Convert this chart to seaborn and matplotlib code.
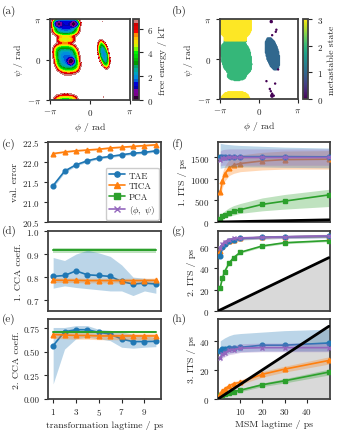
import numpy as np
import pandas as pd
import matplotlib
matplotlib.use("Agg")
import matplotlib.pyplot as plt
from matplotlib.colors import Normalize
from matplotlib.cm import ScalarMappable
from matplotlib.lines import Line2D
import seaborn as sns

# ---------------- data ----------------
method_names = ["TAE", "TICA", "PCA", r"$(\phi,\ \psi)$"]
method_colors = ["#1f77b4", "#ff7f0e", "#2ca02c", "#9467bd"]
method_markers = ["o", "^", "s", "x"]

# transformation lagtimes (left column)
trans_lag = [1, 2, 3, 4, 5, 6, 7, 8, 9, 10]
valerr_tae = [21.41, 21.77, 21.93, 22.03, 22.10, 22.14, 22.18, 22.22, 22.24, 22.28]
valerr_tae_lo = [21.36, 21.73, 21.90, 22.00, 22.07, 22.11, 22.15, 22.19, 22.21, 22.25]
valerr_tae_hi = [21.46, 21.81, 21.96, 22.06, 22.13, 22.17, 22.21, 22.25, 22.27, 22.31]
valerr_tica = [22.21, 22.25, 22.28, 22.30, 22.32, 22.35, 22.37, 22.39, 22.41, 22.43]
valerr_tica_lo = [22.19, 22.23, 22.26, 22.28, 22.30, 22.33, 22.35, 22.37, 22.39, 22.41]
valerr_tica_hi = [22.23, 22.27, 22.30, 22.32, 22.34, 22.37, 22.39, 22.41, 22.43, 22.45]

cca1_tae = [0.803, 0.807, 0.827, 0.810, 0.807, 0.803, 0.781, 0.770, 0.774, 0.770]
cca1_tae_lo = [0.752, 0.762, 0.755, 0.750, 0.745, 0.740, 0.740, 0.720, 0.740, 0.730]
cca1_tae_hi = [0.885, 0.872, 0.900, 0.917, 0.905, 0.890, 0.853, 0.800, 0.795, 0.790]
cca1_tica = [0.787, 0.786, 0.786, 0.785, 0.785, 0.785, 0.785, 0.785, 0.785, 0.786]
cca1_tica_lo = [0.777, 0.776, 0.776, 0.775, 0.775, 0.775, 0.775, 0.775, 0.775, 0.776]
cca1_tica_hi = [0.797, 0.796, 0.796, 0.795, 0.795, 0.795, 0.795, 0.795, 0.795, 0.796]
cca1_pca = [0.916] * 10
cca1_pca_lo = [0.904] * 10
cca1_pca_hi = [0.928] * 10

cca2_tae = [0.567, 0.715, 0.736, 0.736, 0.708, 0.690, 0.637, 0.610, 0.610, 0.613]
cca2_tae_lo = [0.16, 0.53, 0.64, 0.655, 0.64, 0.62, 0.55, 0.54, 0.55, 0.556]
cca2_tae_hi = [0.76, 0.76, 0.78, 0.78, 0.74, 0.73, 0.71, 0.69, 0.67, 0.655]
cca2_tica = [0.685, 0.680, 0.675, 0.675, 0.670, 0.670, 0.670, 0.670, 0.670, 0.670]
cca2_tica_lo = [0.645, 0.640, 0.635, 0.635, 0.630, 0.630, 0.630, 0.630, 0.630, 0.630]
cca2_tica_hi = [0.715, 0.710, 0.705, 0.705, 0.700, 0.700, 0.700, 0.700, 0.700, 0.700]
cca2_pca = [0.712] * 10
cca2_pca_lo = [0.705] * 10
cca2_pca_hi = [0.719] * 10

# MSM lagtimes (right column)
msm_lag = [1, 2, 3, 5, 7, 10, 20, 30, 50]
lag_line = [0, 50]

its1_tae = [1500, 1510, 1515, 1520, 1520, 1520, 1520, 1520, 1515]
its1_tae_lo = [1250, 1260, 1270, 1280, 1280, 1280, 1280, 1270, 1260]
its1_tae_hi = [1830, 1820, 1810, 1800, 1790, 1780, 1760, 1740, 1720]
its1_tica = [690, 960, 1115, 1250, 1320, 1360, 1420, 1450, 1460]
its1_tica_lo = [560, 800, 950, 1080, 1130, 1170, 1210, 1230, 1230]
its1_tica_hi = [850, 1150, 1300, 1450, 1520, 1560, 1620, 1650, 1660]
its1_pca = [75, 130, 170, 215, 250, 285, 410, 485, 630]
its1_pca_lo = [40, 70, 100, 130, 160, 200, 260, 300, 360]
its1_pca_hi = [120, 200, 260, 330, 380, 430, 560, 640, 760]
its1_pp = [1450, 1480, 1490, 1500, 1500, 1500, 1500, 1500, 1500]
its1_pp_lo = [1300, 1320, 1320, 1320, 1320, 1320, 1320, 1320, 1320]
its1_pp_hi = [1650, 1680, 1690, 1700, 1700, 1700, 1700, 1700, 1700]

its2_tae = [52, 60, 63, 66, 67, 68, 69, 69.5, 70]
its2_tae_lo = [50, 58, 61.5, 64.5, 65.5, 66.5, 67.5, 68, 68.5]
its2_tae_hi = [54, 62, 64.5, 67.5, 68.5, 69.5, 70.5, 71, 71.5]
its2_tica = [56, 61, 64, 66, 67, 68, 69, 69.5, 70]
its2_tica_lo = [55, 60, 63, 65, 66, 67, 68, 68.5, 69]
its2_tica_hi = [57, 62, 65, 67, 68, 69, 70, 70.5, 71]
its2_pca = [22, 31, 37, 45, 50, 55, 61, 64, 66]
its2_pca_lo = [21, 30, 36, 44, 49, 54, 60, 63, 65]
its2_pca_hi = [23, 32, 38, 46, 51, 56, 62, 65, 67]
its2_pp = [59, 63, 65, 67, 68, 68.5, 69, 69.5, 70.5]
its2_pp_lo = [57, 61.5, 63.5, 65.5, 66.5, 67, 67.5, 68, 69]
its2_pp_hi = [61, 64.5, 66.5, 68.5, 69.5, 70, 70.5, 71, 72]

its3_tae = [33, 34.2, 34.7, 35.3, 35.3, 35.5, 37, 37, 38.5]
its3_tae_lo = [28, 29.5, 30.5, 31.5, 32, 32.5, 33, 33, 33]
its3_tae_hi = [40, 41, 42, 43.5, 44.5, 45, 46, 47, 48]
its3_tica = [3.5, 5.5, 7, 9, 10.5, 11.5, 17, 20.5, 26.5]
its3_tica_lo = [2.5, 4.2, 5.6, 7.5, 9, 10, 15, 18.5, 24]
its3_tica_hi = [4.5, 6.8, 8.4, 10.5, 12, 13, 19, 22.5, 29]
its3_pca = [2.5, 3, 3.5, 4.2, 5, 6, 9.8, 12.5, 18.5]
its3_pca_lo = [1.8, 2.2, 2.6, 3.2, 4, 5, 8.5, 11, 16.5]
its3_pca_hi = [3.2, 3.8, 4.4, 5.2, 6, 7, 11, 14, 20.5]
its3_pp = [28.4, 30.7, 31.8, 33.5, 34, 34.9, 35.3, 35.3, 35.3]
its3_pp_lo = [25.5, 28, 29, 30.5, 31, 32, 32.5, 32.5, 32.5]
its3_pp_hi = [31.5, 33.5, 34.5, 36.5, 37, 38, 38.5, 38.5, 38.5]

# free-energy basins of the (phi, psi) landscape
basin_phi = [-1.90, -2.49, -1.26, -1.83, -1.49, -1.90, -1.90, 1.08, 1.00, 1.05, -1.80]
basin_psi = [2.65, 2.76, 2.76, 0.10, -0.14, 1.55, -3.55, 0.40, 2.95, -2.90, -1.35]
basin_wphi = [0.67, 0.30, 0.30, 0.64, 0.30, 0.59, 0.70, 0.28, 0.06, 0.06, 0.80]
basin_wpsi = [0.53, 0.25, 0.25, 0.72, 0.30, 0.22, 0.59, 0.70, 0.08, 0.12, 0.35]
basin_tilt = [0.0, 0.0, 0.0, 0.15, 0.0, 0.0, 0.0, 0.20, 0.0, 0.0, 0.0]
basin_f0 = [1.0, 0.2, 0.0, 1.5, 0.0, 4.3, 3.0, 1.8, 6.5, 6.5, 6.9]
basin_shape = [3, 2, 2, 3, 2, 3, 3, 2, 2, 2, 2]
fe_max = 6.8
sample_max = 7.8

# sparse metastable state 0 samples
state0_phi = [1.40, 1.35, 1.06, 0.60, 1.30, 0.87, 0.95, 1.06, 1.00, 1.19, 1.54]
state0_psi = [2.30, 2.14, 1.87, -1.74, -1.93, -2.35, -2.53, -2.72, -2.88, -2.88, -0.82]


def landscape(P, S):
    terms = []
    for bp, bs, wp, ws, tl, f0, sh in zip(basin_phi, basin_psi, basin_wphi, basin_wpsi,
                                          basin_tilt, basin_f0, basin_shape):
        dp = (P - bp) + tl * (S - bs)
        r = (np.abs(dp / wp) ** sh + np.abs((S - bs) / ws) ** sh) ** (1.0 / sh)
        terms.append(np.exp(-(f0 + r ** 3)))
    return -np.log(np.sum(terms, axis=0) + 1e-300)


# ---------------- style ----------------
sns.set_theme(style="ticks")
plt.rcParams.update({
    "font.family": "serif",
    "font.serif": ["cmr10"],
    "mathtext.fontset": "cm",
    "axes.formatter.use_mathtext": True,
    "font.size": 7,
    "axes.labelsize": 7,
    "xtick.labelsize": 6.5,
    "ytick.labelsize": 6.5,
    "axes.edgecolor": "0.25",
    "axes.linewidth": 1.3,
    "xtick.color": "0.15",
    "ytick.color": "0.15",
    "xtick.major.size": 2.6,
    "ytick.major.size": 2.6,
    "xtick.major.width": 0.8,
    "ytick.major.width": 0.8,
    "xtick.major.pad": 2.5,
    "ytick.major.pad": 3.5,
    "axes.labelpad": 2,
    "axes.facecolor": "white",
})

W, H = 337, 435
fig = plt.figure(figsize=(W / 100, H / 100), dpi=100)


def add_ax(x0, y0, x1, y1):
    return fig.add_axes([x0 / W, 1 - y1 / H, (x1 - x0) / W, (y1 - y0) / H])


# ---------------- (a) free energy ----------------
g = np.linspace(-np.pi, np.pi, 241)
PHI, PSI = np.meshgrid(g, g)
F = landscape(PHI, PSI)
fshift = F.min()
F -= fshift
Fm = np.ma.masked_where(F > fe_max, F)

ax_a = add_ax(50, 20, 130, 101)
cax_a = add_ax(133, 20, 139, 101)
cs = ax_a.contourf(PHI, PSI, Fm, levels=np.linspace(0, fe_max, 24), cmap="nipy_spectral")
cb = fig.colorbar(cs, cax=cax_a, ticks=[0, 2, 4, 6])
cb.set_label("free energy / kT", labelpad=3)
cb.outline.set_edgecolor("0.25")
cb.outline.set_linewidth(1.3)

# ---------------- (b) metastable states ----------------
gs = np.arange(-np.pi, np.pi, 0.065)
P2, S2 = np.meshgrid(gs, gs)
F2 = landscape(P2, S2) - fshift
keep = F2 < sample_max
pp = P2[keep]
ss = S2[keep]
state = np.where(pp > 0, np.where((ss > -1.0) & (ss < 1.7), 1, 0),
                 np.where((ss > 1.42) | (ss < -2.4), 3, 2))
df_b = pd.DataFrame({
    "phi": np.concatenate([pp, state0_phi]),
    "psi": np.concatenate([ss, state0_psi]),
    "state": np.concatenate([state, np.zeros(len(state0_phi))]),
})
ax_b = add_ax(220, 20, 298, 100)
cax_b = add_ax(303, 20, 308.5, 100)
sns.scatterplot(data=df_b, x="phi", y="psi", hue="state", palette="viridis",
                hue_norm=(0, 3), s=3, linewidth=0, legend=False, ax=ax_b)
sm = ScalarMappable(norm=Normalize(0, 3), cmap="viridis")
cb2 = fig.colorbar(sm, cax=cax_b, ticks=[0, 1, 2, 3])
cb2.set_label("metastable state", labelpad=3)
cb2.outline.set_edgecolor("0.25")
cb2.outline.set_linewidth(1.3)

for ax in (ax_a, ax_b):
    ax.set_xlim(-np.pi, np.pi)
    ax.set_ylim(-np.pi, np.pi)
    ax.set_xticks([-np.pi, 0, np.pi])
    ax.set_xticklabels([r"$-\pi$", r"$0$", r"$\pi$"])
    ax.set_yticks([-np.pi, 0, np.pi])
    ax.set_yticklabels([r"$-\pi$", r"$0$", r"$\pi$"])
    ax.set_xlabel(r"$\phi$ / rad")
    ax.set_ylabel(r"$\psi$ / rad")


# ---------------- line panels ----------------
MS = 3.4
LW = 1.2


def draw(ax, x, y, lo, hi, idx, zorder=3, marker=True):
    c = method_colors[idx]
    ax.fill_between(x, lo, hi, color=c, alpha=0.3, linewidth=0, zorder=zorder - 1)
    if marker:
        sns.lineplot(x=x, y=y, ax=ax, color=c, marker=method_markers[idx],
                     markersize=MS, markeredgecolor=c, markeredgewidth=1.0,
                     linewidth=LW, errorbar=None, legend=False, zorder=zorder)
    else:
        sns.lineplot(x=x, y=y, ax=ax, color=c, linewidth=LW * 1.2,
                     errorbar=None, legend=False, zorder=zorder)


rows = [(143, 223), (232, 312), (320, 400)]
left = [add_ax(48, y0, 161, y1) for (y0, y1) in rows]
right = [add_ax(218, y0, 330, y1) for (y0, y1) in rows]

ax_c, ax_d, ax_e = left
draw(ax_c, trans_lag, valerr_tae, valerr_tae_lo, valerr_tae_hi, 0, 4)
draw(ax_c, trans_lag, valerr_tica, valerr_tica_lo, valerr_tica_hi, 1, 3)
ax_c.set_ylim(20.5, 22.5)
ax_c.set_yticks([20.5, 21.0, 21.5, 22.0, 22.5])
ax_c.set_ylabel("val. error")
handles = [Line2D([], [], color=method_colors[i], marker=method_markers[i], markersize=MS + 0.4,
                  markeredgecolor=method_colors[i], markeredgewidth=1.0, linewidth=LW)
           for i in range(4)]
ax_c.legend(handles, method_names, loc="lower right", fontsize=6.5, handlelength=1.7,
            borderpad=0.4, labelspacing=0.25, handletextpad=0.5, framealpha=1,
            edgecolor="0.8", borderaxespad=0.25)

draw(ax_d, trans_lag, cca1_pca, cca1_pca_lo, cca1_pca_hi, 2, 3, marker=False)
draw(ax_d, trans_lag, cca1_tae, cca1_tae_lo, cca1_tae_hi, 0, 4)
draw(ax_d, trans_lag, cca1_tica, cca1_tica_lo, cca1_tica_hi, 1, 5)
ax_d.set_ylim(0.653, 1.0)
ax_d.set_yticks([0.7, 0.8, 0.9, 1.0])
ax_d.set_ylabel("1. CCA coeff.")

draw(ax_e, trans_lag, cca2_tae, cca2_tae_lo, cca2_tae_hi, 0, 4)
draw(ax_e, trans_lag, cca2_tica, cca2_tica_lo, cca2_tica_hi, 1, 5)
draw(ax_e, trans_lag, cca2_pca, cca2_pca_lo, cca2_pca_hi, 2, 6, marker=False)
ax_e.set_ylim(0, 0.85)
ax_e.set_yticks([0, 0.25, 0.5, 0.75])
ax_e.set_yticklabels(["0.00", "0.25", "0.50", "0.75"])
ax_e.set_ylabel("2. CCA coeff.")
ax_e.set_xlabel("transformation lagtime / ps")

for ax in left:
    ax.set_xlim(0.55, 10.45)
    ax.set_xticks([1, 3, 5, 7, 9])
for ax in (ax_c, ax_d):
    ax.tick_params(axis="x", length=0, labelbottom=False)
    ax.set_xlabel("")

its_sets = [
    (its1_tae, its1_tae_lo, its1_tae_hi, its1_tica, its1_tica_lo, its1_tica_hi,
     its1_pca, its1_pca_lo, its1_pca_hi, its1_pp, its1_pp_lo, its1_pp_hi),
    (its2_tae, its2_tae_lo, its2_tae_hi, its2_tica, its2_tica_lo, its2_tica_hi,
     its2_pca, its2_pca_lo, its2_pca_hi, its2_pp, its2_pp_lo, its2_pp_hi),
    (its3_tae, its3_tae_lo, its3_tae_hi, its3_tica, its3_tica_lo, its3_tica_hi,
     its3_pca, its3_pca_lo, its3_pca_hi, its3_pp, its3_pp_lo, its3_pp_hi),
]
its_ylim = [1860, 75, 55]
its_yticks = [[0, 500, 1000, 1500], [0, 20, 40, 60], [0, 20, 40]]
for k, ax in enumerate(right):
    d = its_sets[k]
    ax.fill_between(lag_line, 0, lag_line, color="#d9d9d9", linewidth=0, zorder=1)
    ax.plot(lag_line, lag_line, color="black", linewidth=2.0, zorder=7)
    draw(ax, msm_lag, d[6], d[7], d[8], 2, 3)
    draw(ax, msm_lag, d[3], d[4], d[5], 1, 4)
    draw(ax, msm_lag, d[0], d[1], d[2], 0, 5)
    draw(ax, msm_lag, d[9], d[10], d[11], 3, 6)
    ax.set_xlim(0, 50.5)
    ax.set_ylim(0, its_ylim[k])
    ax.set_yticks(its_yticks[k])
    ax.set_xticks([10, 20, 30, 40])
    ax.set_ylabel(f"{k + 1}. ITS / ps")
    ax.set_xlabel("")
    if k < 2:
        ax.tick_params(axis="x", length=0, labelbottom=False)
right[2].set_xlabel("MSM lagtime / ps")

# panel labels
labels = [("(a)", 2, 11), ("(b)", 172, 11), ("(c)", 2, 144), ("(d)", 2, 231),
          ("(e)", 2, 319), ("(f)", 172, 144), ("(g)", 172, 231), ("(h)", 172, 319)]
for t, x, y in labels:
    fig.text(x / W, 1 - y / H, t, fontsize=8, ha="left", va="center")

fig.savefig("out.png", dpi=100)
